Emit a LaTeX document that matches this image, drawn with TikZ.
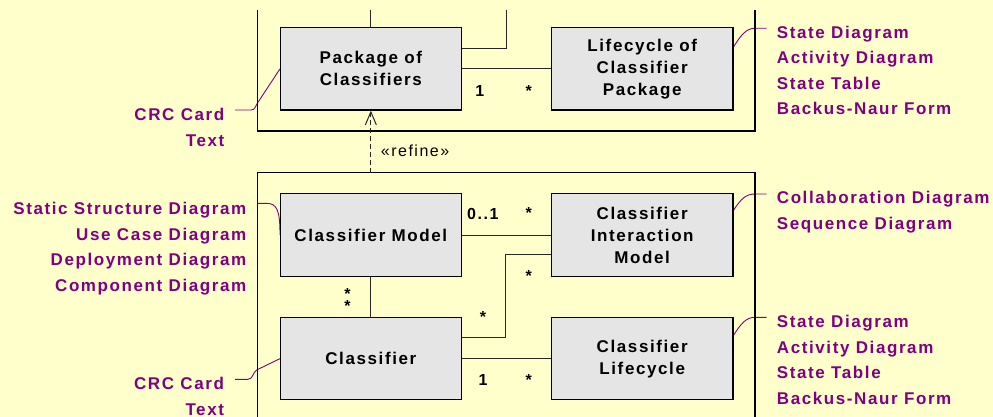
\documentclass[tikz,border=0pt]{standalone}
\usepackage{fontspec}
\setmainfont{Liberation Sans}
\newfontfamily\trackfont{Liberation Sans}[LetterSpace=9.4]
\usetikzlibrary{arrows.meta,calc}
\definecolor{paper}{HTML}{FFFFCC}
\definecolor{clsfill}{HTML}{E5E5E5}
\definecolor{notecol}{HTML}{800080}
\begin{document}
\begin{tikzpicture}[x=1pt,y=-1pt,
  clsbox/.style={draw=black, line width=1.2pt, fill=clsfill,
    minimum width=181.5pt, minimum height=82.3pt, inner sep=0pt, align=center,
    font=\trackfont\bfseries\fontsize{17}{22}\selectfont},
  notetext/.style={text=notecol, inner sep=0pt,
    font=\trackfont\bfseries\fontsize{17}{20}\selectfont},
  mult/.style={inner sep=0pt, anchor=base,
    font=\trackfont\bfseries\fontsize{16}{18}\selectfont},
  frameline/.style={line width=1.2pt, black},
  assoc/.style={line width=1pt, black!85},
  notelink/.style={line width=0.9pt, notecol},
]
% canvas
\fill[paper] (0,0) rectangle (993,417);
\useasboundingbox (0,0) rectangle (993,417);

% free ends of the note links
\coordinate (n1) at (235,110);
\coordinate (n2) at (257.3,203.3);
\coordinate (n3) at (235,379.3);
\coordinate (n4) at (766.7,28.3);
\coordinate (n5) at (766.7,194);
\coordinate (n6) at (766.7,317.3);

% centres of the classifier boxes (boxes are placed below)
\path (370.85,68.85) coordinate (pcc) (642.2,68.85) coordinate (lcc)
      (370.85,235) coordinate (cmc) (642.2,235) coordinate (cimc)
      (370.85,358.65) coordinate (clsc) (642.2,358.65) coordinate (clc);

% note links (under the boxes)
\draw[notelink] (n1) -- (251,110) .. controls (255,110) and (255.5,106) .. (257.5,103) -- ($(pcc)+(-90.85,0)$);
\draw[notelink] (n2) -- (266,203.3) .. controls (277,203.3) and (280,210) .. ($(cmc)+(-90.85,0)$);
\draw[notelink] (n3) -- (248,379.3) .. controls (253,379.3) and (252.5,372.5) .. (257,369.8) -- ($(clsc)+(-90.85,0)$);
\draw[notelink] ($(lcc)+(90.5,-20.55)$) .. controls +(8,-13) and +(-9,0) .. (755,28.3) -- (n4);
\draw[notelink] ($(cimc)+(90.5,-23.3)$) .. controls +(8,-13) and +(-9,0) .. (755,194) -- (n5);
\draw[notelink] ($(clc)+(90.5,-21.95)$) .. controls +(8,-13) and +(-9,0) .. (755,317.3) -- (n6);

% package frames
\draw[frameline] (257.3,10) -- (257.3,131) -- (755,131) -- (755,10);
\draw[frameline] (257.3,418) -- (257.3,172.7) -- (755,172.7) -- (755,418);

% classifier boxes
\node[clsbox] (pc)  at (pcc)  {Package of\\Classifiers};
\node[clsbox] (lc)  at (lcc)  {Lifecycle of\\Classifier\\Package};
\node[clsbox] (cm)  at (cmc)  {Classifier Model};
\node[clsbox] (cim) at (cimc) {Classifier\\Interaction\\Model};
\node[clsbox] (cls) at (clsc) {Classifier};
\node[clsbox] (cl)  at (clc)  {Classifier\\Lifecycle};

% associations
\coordinate (in1) at (370.85,10);
\coordinate (in2) at (506.7,10);
\draw[assoc] (in1) -- (pc.north);
\draw[assoc] (in2) |- ($(pc.north east)+(0,21.3)$);
\draw[assoc] (pc.east) -- (lc.west);
\draw[assoc] (cm.east) -- (cim.west);
\draw[assoc] (cm.south) -- (cls.north);
\draw[assoc] ($(cls.north east)+(0,20.4)$) -| ($(cim.north west)+(-45,61.3)$) -- ($(cim.north west)+(0,61.3)$);
\draw[assoc] (cls.east) -- (cl.west);

% refinement dependency
\coordinate (rs) at (370.85,172.7);
\draw[assoc, dash pattern=on 5pt off 3pt, -{Straight Barb[length=13pt,width=11pt]}] (rs) -- (pc.south);
\node[inner sep=0pt, anchor=base west, font=\trackfont\fontsize{16}{18}\selectfont] (refl) at (380.7,156.7) {«refine»};

% multiplicities
\node[mult] (m1)  at (479.7,96.5) {1};
\node[mult] (m2)  at (528.7,96.5) {*};
\node[mult] (m3)  at (482.8,219.3) {0..1};
\node[mult] (m4)  at (528.7,218.7) {*};
\node[mult] (m5)  at (528.7,281) {*};
\node[mult] (m6)  at (483,322.5) {*};
\node[inner sep=0pt, align=center, anchor=center,
      font=\trackfont\bfseries\fontsize{16}{12}\selectfont] (m7) at (347.6,300) {*\\*};
\node[mult] (m9)  at (483,385) {1};
\node[mult] (m10) at (528.7,385) {*};

% notes on the left
\node[notetext, anchor=base east] (t1a) at (224.5,120.7) {CRC Card};
\node[notetext, anchor=base east] (t1b) at (224.5,146.7) {Text};
\node[notetext, anchor=base east] (t2a) at (246.5,214.3) {Static Structure Diagram};
\node[notetext, anchor=base east] (t2b) at (246.5,240) {Use Case Diagram};
\node[notetext, anchor=base east] (t2c) at (246.5,265.7) {Deployment Diagram};
\node[notetext, anchor=base east] (t2d) at (246.5,291) {Component Diagram};
\node[notetext, anchor=base east] (t3a) at (224.2,389) {CRC Card};
\node[notetext, anchor=base east] (t3b) at (224.2,415) {Text};

% notes on the right
\node[notetext, anchor=base west] (t4a) at (776.7,38.3) {State Diagram};
\node[notetext, anchor=base west] (t4b) at (776.7,63.9) {Activity Diagram};
\node[notetext, anchor=base west] (t4c) at (776.7,89.5) {State Table};
\node[notetext, anchor=base west] (t4d) at (776.7,115) {Backus-Naur Form};
\node[notetext, anchor=base west] (t5a) at (776.7,203.3) {Collaboration Diagram};
\node[notetext, anchor=base west] (t5b) at (776.7,229.3) {Sequence Diagram};
\node[notetext, anchor=base west] (t6a) at (776.7,327.7) {State Diagram};
\node[notetext, anchor=base west] (t6b) at (776.7,353.3) {Activity Diagram};
\node[notetext, anchor=base west] (t6c) at (776.7,378.9) {State Table};
\node[notetext, anchor=base west] (t6d) at (776.7,404.5) {Backus-Naur Form};
\end{tikzpicture}
\end{document}
